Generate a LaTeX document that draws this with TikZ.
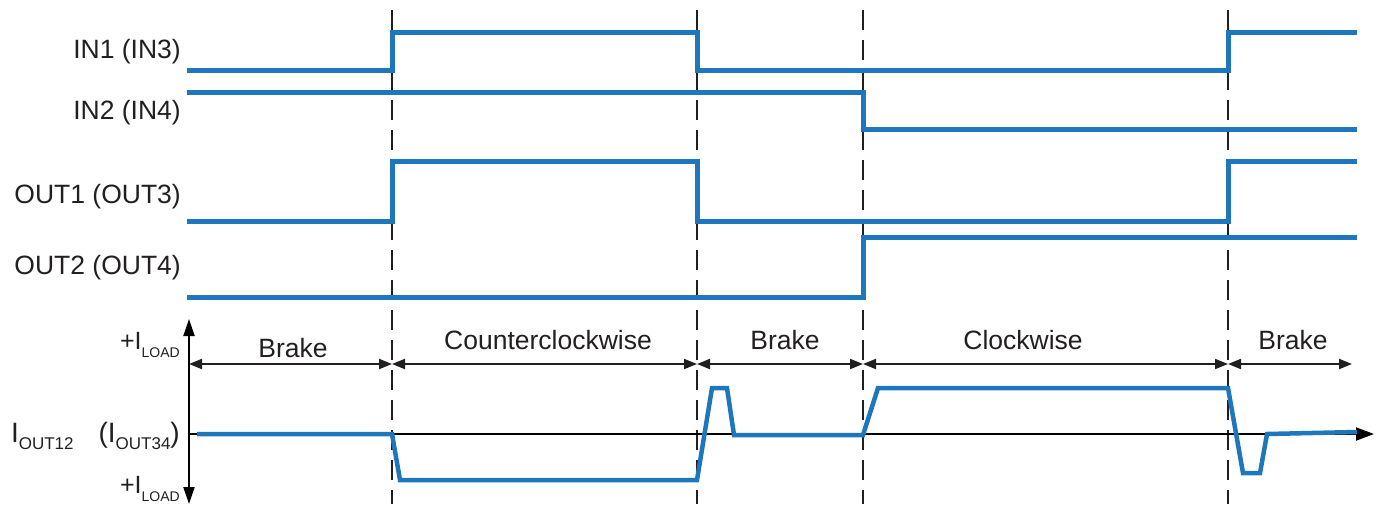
\documentclass[tikz,border=0pt]{standalone}
\usepackage{fontspec}
\setmainfont{Liberation Sans}
\usetikzlibrary{arrows.meta}
\definecolor{wave}{RGB}{30,118,189}
\definecolor{ink}{RGB}{35,31,32}
\newcommand{\sublow}[1]{\raisebox{-0.3em}{\fontsize{14}{14}\selectfont #1}}
\newcommand{\sublowb}[1]{\raisebox{-0.28em}{\fontsize{17}{17}\selectfont #1}}
\begin{document}
\begin{tikzpicture}[x=1pt,y=-1pt,
  sig/.style={wave,line width=5pt,line join=miter},
  guide/.style={ink,line width=1.4pt,dash pattern=on 20pt off 10pt},
  lab/.style={anchor=east,text=ink,font=\fontsize{26.5}{30}\selectfont,inner sep=0pt},
  span/.style={ink,line width=2pt,{Triangle[length=13pt,width=10pt]}-{Triangle[length=13pt,width=10pt]}},
  spantxt/.style={text=ink,font=\fontsize{26.5}{30}\selectfont,inner sep=0pt},
  axis/.style={black,line width=2pt}]
\useasboundingbox (0,0) rectangle (1381,504);
% dashed guides
\foreach \n/\x in {a/392,b/697,c/863,d/1228}{
  \coordinate (g\n top) at (\x,10);
  \coordinate (g\n bot) at (\x,504);
  \draw[guide] (g\n top) -- (g\n bot);
}
% labels
\node[lab] (lin1) at (181,52) {IN1 (IN3)};
\node[lab] (lin2) at (181,113) {IN2 (IN4)};
\node[lab] (lout1) at (181,197) {OUT1 (OUT3)};
\node[lab] (lout2) at (181,268) {OUT2 (OUT4)};
% waveforms
\draw[sig] (187,70) -- (392,70) -- (392,32) -- (697,32) -- (697,70) -- (1228,70) -- (1228,32) -- (1357,32);
\draw[sig] (187,92) -- (863,92) -- (863,129) -- (1357,129);
\draw[sig] (187,221) -- (392,221) -- (392,161) -- (697,161) -- (697,221) -- (1228,221) -- (1228,161) -- (1357,161);
\draw[sig] (187,297) -- (863,297) -- (863,237) -- (1357,237);
% axes
\coordinate (ytop) at (189,319);
\coordinate (ybot) at (189,504);
\coordinate (x0) at (189,434);
\coordinate (xend) at (1374,434);
\draw[axis,{Triangle[length=17pt,width=11pt]}-{Triangle[length=17pt,width=11pt]}] (ytop) -- (ybot);
\draw[axis,-{Triangle[length=18pt,width=13pt]}] (x0) -- (xend);
% current
\draw[sig,line width=4.5pt] (197,434) -- (392,434) -- (400,480) -- (697,480) -- (712,388) -- (727,388) -- (734,435) -- (863,435) -- (878,388) -- (1228,388) -- (1243,473) -- (1260,473) -- (1267,434) -- (1357,432);
% axis labels
\node[lab,font=\fontsize{25}{28}\selectfont] (ip) at (180,345) {+I\sublow{LOAD}};
\node[lab,font=\fontsize{25}{28}\selectfont] (im) at (180,489) {+I\sublow{LOAD}};
\node[lab,font=\fontsize{28}{32}\selectfont] (iout) at (180,436) {I\sublowb{OUT12}\hspace{25pt}(I\sublowb{OUT34})};
% spans
\coordinate (s0) at (189,364);
\coordinate (s1) at (392,364);
\coordinate (s2) at (697,364);
\coordinate (s3) at (863,364);
\coordinate (s4) at (1228,364);
\coordinate (s5) at (1352,364);
\draw[span] (s0) -- (s1);
\draw[span] (s1) -- (s2);
\draw[span] (s2) -- (s3);
\draw[span] (s3) -- (s4);
\draw[span] (s4) -- (s5);
\node[spantxt] (t1) at (293,348) {Brake};
\node[spantxt] (t2) at (548,340) {Counterclockwise};
\node[spantxt] (t3) at (785,340) {Brake};
\node[spantxt] (t4) at (1023,340) {Clockwise};
\node[spantxt] (t5) at (1293,340) {Brake};
\end{tikzpicture}
\end{document}
